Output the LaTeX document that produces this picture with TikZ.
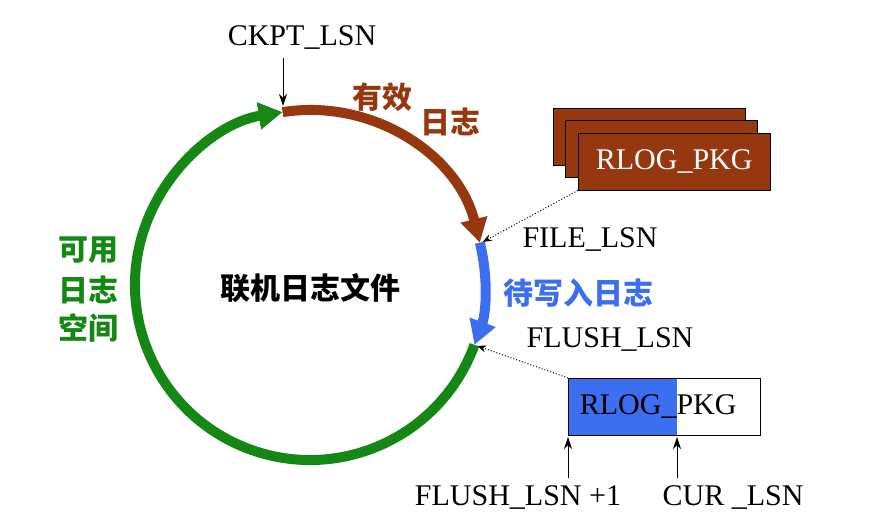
\documentclass[tikz,border=0pt]{standalone}
\usepackage{fontspec}
\setmainfont{Liberation Serif}
\newfontfamily\cjk{Noto Sans CJK SC}
\usetikzlibrary{arrows.meta,calc}
\definecolor{cg}{RGB}{20,135,20}
\definecolor{cb}{RGB}{150,55,15}
\definecolor{cu}{RGB}{60,110,240}
\begin{document}
\begin{tikzpicture}[x=1pt,y=1pt,
  lbl/.style={font=\fontsize{30}{34}\selectfont,inner sep=0},
  zh/.style={font=\cjk\bfseries\fontsize{30}{34}\selectfont,inner sep=0},
  ring/.style={line width=10pt,-{Triangle[length=24pt,width=26pt]}},
  thin/.style={-{Stealth[length=12pt,width=8pt]},line width=1pt},
  dot/.style={dotted,line width=1pt,-{Stealth[length=9pt,width=7pt]}}]
\useasboundingbox (0,0) rectangle (882,530);
\coordinate (c) at (310,245);
\draw[ring,cg] ($(c)+(-20:175)$) arc (-20:-261:175);
\draw[ring,cb] ($(c)+(99:175)$) arc (99:14:175);
\draw[ring,cu] ($(c)+(14:175)$) arc (14:-20:175);
\coordinate (pfile) at ($(c)+(14:178)$);
\coordinate (pflush) at ($(c)+(-20:178)$);
\node[lbl] (ckpt) at (302,492) {CKPT\_LSN};
\draw[thin] (283,472) -- (283,424);
\node[zh,cb] (yx) at (382,433) {有效};
\node[zh,cb] (rz) at (450,408) {日志};
\draw[fill=cb] (553,422) rectangle (745,365);
\draw[fill=cb] (565,410) rectangle (757,353);
\node[draw,fill=cb,minimum width=192pt,minimum height=57pt,anchor=north west,text=white,lbl] (pkg) at (578,397) {RLOG\_PKG};
\draw[dot] (pkg.south west) -- (pfile);
\node[lbl] (file) at (590,290) {FILE\_LSN};
\node[zh,cu] (dx) at (578,237) {待写入日志};
\node[lbl] (flush) at (610,190) {FLUSH\_LSN};
\node[zh,cg] (k1) at (88,280) {可用};
\node[zh,cg] (k2) at (88,240) {日志};
\node[zh,cg] (k3) at (88,202) {空间};
\node[zh] (main) at (310,242) {联机日志文件};
\fill[cu] (568,95) rectangle (677,152);
\node[draw,minimum width=192pt,minimum height=57pt,anchor=north west,lbl] (box) at (568,152) {\hspace*{-12pt}RLOG\_PKG};
\draw[dot] (box.north west) -- (pflush);
\node[lbl] (f1) at (518,33) {FLUSH\_LSN +1};
\node[lbl] (cur) at (733,33) {CUR \_LSN};
\coordinate (a1) at (568,52); \coordinate (a2) at (677,52);
\draw[thin] (a1) -- (568,93);
\draw[thin] (a2) -- (677,93);
\end{tikzpicture}
\end{document}
